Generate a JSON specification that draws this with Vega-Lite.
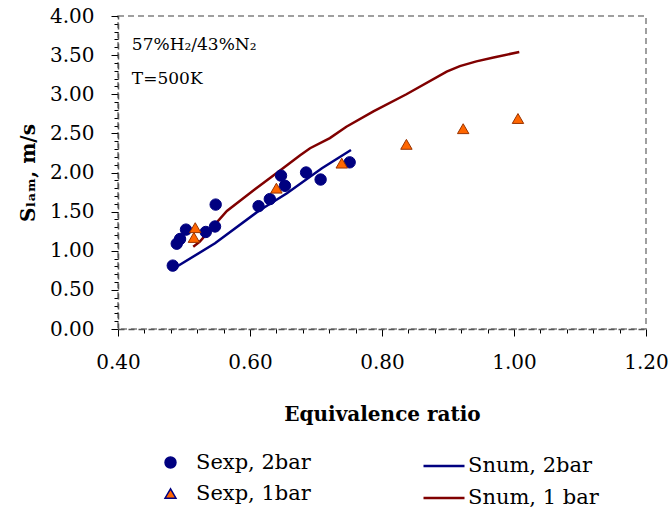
{
  "$schema": "https://vega.github.io/schema/vega-lite/v6.json",
  "width": 528,
  "height": 313,
  "autosize": {"type": "none"},
  "padding": {"left": 118, "top": 16, "right": 26, "bottom": 184},
  "background": "white",
  "config": {
    "font": "DejaVu Serif",
    "view": {"stroke": "#808080", "strokeDash": [6, 4], "strokeWidth": 1.5}
  },
  "datasets": {
    "exp": [
      {"phi": 0.483, "s": 0.81, "series": "Sexp, 2bar"},
      {"phi": 0.489, "s": 1.09, "series": "Sexp, 2bar"},
      {"phi": 0.494, "s": 1.15, "series": "Sexp, 2bar"},
      {"phi": 0.503, "s": 1.27, "series": "Sexp, 2bar"},
      {"phi": 0.533, "s": 1.24, "series": "Sexp, 2bar"},
      {"phi": 0.547, "s": 1.31, "series": "Sexp, 2bar"},
      {"phi": 0.548, "s": 1.59, "series": "Sexp, 2bar"},
      {"phi": 0.613, "s": 1.57, "series": "Sexp, 2bar"},
      {"phi": 0.63, "s": 1.66, "series": "Sexp, 2bar"},
      {"phi": 0.647, "s": 1.96, "series": "Sexp, 2bar"},
      {"phi": 0.653, "s": 1.83, "series": "Sexp, 2bar"},
      {"phi": 0.685, "s": 2.0, "series": "Sexp, 2bar"},
      {"phi": 0.707, "s": 1.91, "series": "Sexp, 2bar"},
      {"phi": 0.751, "s": 2.13, "series": "Sexp, 2bar"},
      {"phi": 0.517, "s": 1.295, "series": "Sexp, 1bar"},
      {"phi": 0.515, "s": 1.17, "series": "Sexp, 1bar"},
      {"phi": 0.64, "s": 1.8, "series": "Sexp, 1bar"},
      {"phi": 0.739, "s": 2.12, "series": "Sexp, 1bar"},
      {"phi": 0.837, "s": 2.36, "series": "Sexp, 1bar"},
      {"phi": 0.923, "s": 2.56, "series": "Sexp, 1bar"},
      {"phi": 1.006, "s": 2.69, "series": "Sexp, 1bar"}
    ],
    "num": [
      {"phi": 0.485, "s": 0.776, "series": "Snum, 2bar"},
      {"phi": 0.547, "s": 1.095, "series": "Snum, 2bar"},
      {"phi": 0.613, "s": 1.508, "series": "Snum, 2bar"},
      {"phi": 0.656, "s": 1.734, "series": "Snum, 2bar"},
      {"phi": 0.709, "s": 2.054, "series": "Snum, 2bar"},
      {"phi": 0.753, "s": 2.288, "series": "Snum, 2bar"},
      {"phi": 0.514, "s": 1.05, "series": "Snum, 1 bar"},
      {"phi": 0.524, "s": 1.116, "series": "Snum, 1 bar"},
      {"phi": 0.565, "s": 1.508, "series": "Snum, 1 bar"},
      {"phi": 0.608, "s": 1.79, "series": "Snum, 1 bar"},
      {"phi": 0.64, "s": 1.99, "series": "Snum, 1 bar"},
      {"phi": 0.676, "s": 2.22, "series": "Snum, 1 bar"},
      {"phi": 0.691, "s": 2.31, "series": "Snum, 1 bar"},
      {"phi": 0.721, "s": 2.44, "series": "Snum, 1 bar"},
      {"phi": 0.746, "s": 2.585, "series": "Snum, 1 bar"},
      {"phi": 0.787, "s": 2.78, "series": "Snum, 1 bar"},
      {"phi": 0.837, "s": 3.0, "series": "Snum, 1 bar"},
      {"phi": 0.898, "s": 3.29, "series": "Snum, 1 bar"},
      {"phi": 0.918, "s": 3.36, "series": "Snum, 1 bar"},
      {"phi": 0.943, "s": 3.42, "series": "Snum, 1 bar"},
      {"phi": 0.969, "s": 3.47, "series": "Snum, 1 bar"},
      {"phi": 1.008, "s": 3.54, "series": "Snum, 1 bar"}
    ],
    "notes": [
      {"phi": 0.421, "s": 3.63, "label": "57%H₂/43%N₂"},
      {"phi": 0.421, "s": 3.19, "label": "T=500K"}
    ]
  },
  "encoding": {
    "x": {
      "field": "phi", "type": "quantitative",
      "scale": {"domain": [0.4, 1.2], "nice": false, "zero": false},
      "axis": {
        "values": [0.4, 0.44, 0.48, 0.52, 0.56, 0.6, 0.64, 0.68, 0.72, 0.76, 0.8, 0.84, 0.88, 0.92, 0.96, 1.0, 1.04, 1.08, 1.12, 1.16, 1.2],
        "format": ".2f",
        "labelExpr": "abs(datum.value*5 - round(datum.value*5)) < 0.000001 ? datum.label : ''",
        "labelOverlap": false,
        "labelFlush": false,
        "labelFontSize": 20,
        "labelColor": "black",
        "labelPadding": 16,
        "tickColor": "black",
        "tickSize": {"condition": {"test": "abs(datum.value*5 - round(datum.value*5)) < 0.000001", "value": 7}, "value": 4},
        "domainColor": "#555555",
        "domainDash": [6, 4],
        "domainWidth": 1.5,
        "grid": false,
        "title": "Equivalence ratio",
        "titleFontSize": 20,
        "titleFontWeight": "bold",
        "titleColor": "black",
        "titlePadding": 32
      }
    },
    "y": {
      "field": "s", "type": "quantitative",
      "scale": {"domain": [0, 4], "nice": false, "zero": false},
      "axis": {
        "values": [0, 0.1, 0.2, 0.3, 0.4, 0.5, 0.6, 0.7, 0.8, 0.9, 1.0, 1.1, 1.2, 1.3, 1.4, 1.5, 1.6, 1.7, 1.8, 1.9, 2.0, 2.1, 2.2, 2.3, 2.4, 2.5, 2.6, 2.7, 2.8, 2.9, 3.0, 3.1, 3.2, 3.3, 3.4, 3.5, 3.6, 3.7, 3.8, 3.9, 4.0],
        "format": ".2f",
        "labelExpr": "abs(datum.value*2 - round(datum.value*2)) < 0.000001 ? datum.label : ''",
        "labelOverlap": false,
        "labelFlush": false,
        "labelFontSize": 20,
        "labelColor": "black",
        "labelPadding": 17,
        "tickColor": "black",
        "tickSize": {"condition": {"test": "abs(datum.value*2 - round(datum.value*2)) < 0.000001", "value": 7}, "value": 4},
        "domainColor": "#555555",
        "domainDash": [6, 4],
        "domainWidth": 1.5,
        "grid": false,
        "title": "Sₗₐₘ, m/s",
        "titleFont": "DejaVu Serif, DejaVu Sans",
        "titleFontSize": 20,
        "titleFontWeight": "bold",
        "titleColor": "black",
        "titlePadding": 11
      }
    }
  },
  "layer": [
    {
      "data": {"name": "num"},
      "mark": {"type": "line", "strokeWidth": 2.5},
      "encoding": {
        "stroke": {
          "field": "series", "type": "nominal",
          "scale": {"domain": ["Snum, 2bar", "Snum, 1 bar"], "range": ["#000080", "#800000"]},
          "legend": {
            "title": null,
            "orient": "none",
            "legendX": 304,
            "legendY": 428,
            "direction": "vertical",
            "padding": 0,
            "symbolType": "stroke",
            "symbolSize": 1681,
            "symbolStrokeWidth": 2.5,
            "labelOffset": 2,
            "labelFontSize": 21,
            "labelColor": "black",
            "rowPadding": -11
          }
        }
      }
    },
    {
      "data": {"name": "exp"},
      "mark": {"type": "point", "filled": true, "opacity": 1, "size": 130, "strokeWidth": 1},
      "encoding": {
        "fill": {
          "field": "series", "type": "nominal",
          "scale": {"domain": ["Sexp, 2bar", "Sexp, 1bar"], "range": ["#000080", "#FF6600"]},
          "legend": {
            "title": null,
            "orient": "none",
            "legendX": 42,
            "legendY": 436,
            "direction": "vertical",
            "padding": 0,
            "symbolSize": 120,
            "labelOffset": 15,
            "labelFontSize": 21,
            "labelColor": "black",
            "rowPadding": 9,
            "encode": {
              "symbols": {
                "update": {
                  "stroke": {"signal": "datum.value == 'Sexp, 1bar' ? '#993300' : '#000080'"},
                  "strokeWidth": {"value": 1}
                }
              }
            }
          }
        },
        "shape": {
          "field": "series", "type": "nominal",
          "scale": {"domain": ["Sexp, 2bar", "Sexp, 1bar"], "range": ["circle", "triangle-up"]}
        },
        "stroke": {
          "condition": {"test": "datum.series == 'Sexp, 1bar'", "value": "#993300"},
          "value": "#000080"
        }
      }
    },
    {
      "data": {"name": "notes"},
      "mark": {"type": "text", "align": "left", "baseline": "middle", "fontSize": 17, "font": "DejaVu Serif", "color": "black"},
      "encoding": {
        "text": {"field": "label", "type": "nominal"}
      }
    }
  ]
}
